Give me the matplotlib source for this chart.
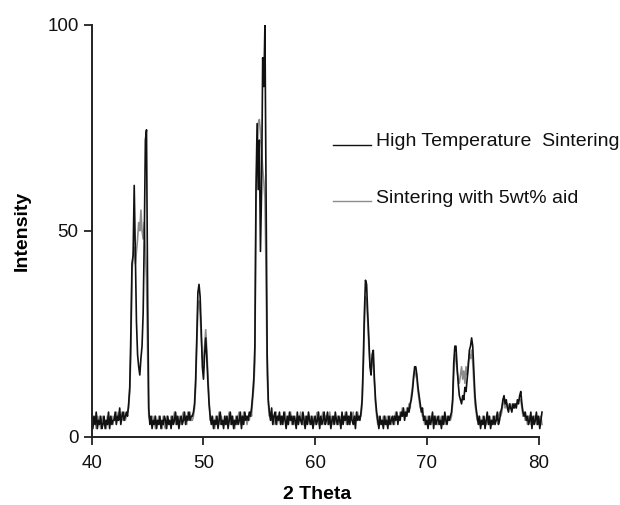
import numpy as np
import matplotlib.pyplot as plt

plt.rcParams['font.family'] = ['Liberation Sans', 'DejaVu Sans']

# 2 theta values start at 40 with a 0.1 step, one row per degree
high_temp = [
    4, 2, 5, 3, 6, 2, 4, 3, 5, 2,          # 40
    3, 5, 2, 4, 3, 6, 2, 5, 3, 4,          # 41
    4, 6, 3, 5, 4, 7, 3, 5, 6, 4,          # 42
    5, 6, 5, 8, 12, 25, 42, 44, 61, 45,    # 43
    28, 20, 17, 15, 19, 22, 30, 48, 72, 74.5,  # 44
    35, 7, 3, 5, 2, 4, 3, 5, 2, 4,         # 45
    3, 5, 2, 4, 3, 5, 4, 2, 5, 3,          # 46
    4, 2, 5, 3, 4, 6, 3, 5, 2, 4,          # 47
    5, 3, 4, 6, 3, 5, 4, 6, 4, 5,          # 48
    5, 6, 8, 14, 24, 35, 37, 34, 26, 17,   # 49
    14, 20, 24, 19, 13, 8, 5, 3, 5, 2,     # 50
    4, 3, 5, 2, 4, 6, 3, 4, 2, 5,          # 51
    3, 5, 2, 4, 6, 3, 5, 2, 4, 3,          # 52
    5, 3, 4, 6, 2, 5, 3, 6, 4, 5,          # 53
    4, 6, 5, 7, 10, 14, 22, 60, 76, 60,    # 54
    72, 45, 60, 92, 85, 100, 60, 20, 9, 6,  # 55
    4, 7, 3, 5, 6, 3, 5, 4, 6, 3,          # 56
    5, 3, 6, 4, 2, 5, 3, 6, 4, 5,          # 57
    3, 5, 4, 2, 6, 3, 5, 4, 3, 6,          # 58
    4, 2, 5, 3, 6, 4, 3, 5, 2, 4,          # 59
    5, 3, 4, 6, 2, 5, 3, 4, 6, 3,          # 60
    4, 6, 3, 5, 2, 4, 5, 3, 6, 4,          # 61
    3, 5, 4, 2, 6, 3, 5, 4, 6, 3,          # 62
    5, 3, 6, 4, 3, 5, 2, 6, 4, 5,          # 63
    4, 6, 9, 18, 30, 38, 37, 30, 24, 17,   # 64
    15, 20, 21, 14, 9, 6, 4, 2, 5, 3,      # 65
    4, 2, 5, 3, 4, 2, 5, 3, 4, 5,          # 66
    3, 5, 4, 6, 3, 5, 4, 6, 5, 7,          # 67
    4, 6, 5, 7, 6, 8, 9, 11, 14, 17,       # 68
    17, 15, 12, 10, 8, 6, 7, 4, 5, 3,      # 69
    4, 2, 5, 3, 4, 6, 2, 5, 3, 4,          # 70
    5, 3, 4, 2, 5, 3, 6, 4, 3, 5,          # 71
    4, 5, 6, 9, 18, 22, 22, 17, 13, 10,    # 72
    9, 8, 10, 9, 12, 11, 14, 17, 21, 22,   # 73
    24, 22, 16, 10, 7, 5, 3, 5, 2, 4,      # 74
    3, 5, 2, 4, 6, 3, 5, 2, 4, 3,          # 75
    5, 3, 4, 6, 3, 4, 6, 7, 9, 10,         # 76
    8, 9, 7, 6, 8, 7, 6, 8, 7, 8,          # 77
    7, 9, 8, 10, 11, 8, 6, 5, 6, 4,        # 78
    5, 3, 4, 6, 2, 5, 3, 4, 6, 3,          # 79
    5, 2, 4, 6,                            # 80
]

with_aid = [
    3, 5, 3, 4, 2, 5, 3, 5, 2, 4,          # 40
    5, 3, 4, 2, 5, 3, 4, 3, 5, 3,          # 41
    5, 4, 6, 4, 6, 5, 4, 6, 4, 6,          # 42
    4, 5, 6, 7, 11, 20, 40, 44, 46, 42,    # 43
    45, 48, 52, 50, 55, 50, 48, 52, 45, 38,  # 44
    20, 5, 4, 3, 5, 3, 5, 2, 4, 3,         # 45
    5, 3, 4, 2, 5, 3, 2, 5, 3, 4,          # 46
    3, 5, 3, 4, 6, 3, 5, 3, 4, 5,          # 47
    3, 5, 6, 4, 5, 3, 6, 4, 6, 4,          # 48
    4, 5, 7, 12, 22, 31, 33, 30, 24, 19,   # 49
    18, 22, 26, 21, 15, 9, 4, 5, 3, 4,     # 50
    2, 5, 3, 4, 6, 3, 5, 3, 4, 3,          # 51
    5, 3, 4, 6, 3, 5, 3, 4, 2, 5,          # 52
    3, 5, 6, 3, 5, 3, 6, 4, 5, 3,          # 53
    5, 4, 6, 5, 9, 12, 18, 55, 70, 76,     # 54
    77, 74, 70, 65, 62, 58, 40, 15, 8, 5,  # 55
    6, 4, 5, 3, 4, 6, 3, 5, 4, 5,          # 56
    3, 5, 4, 6, 4, 3, 5, 4, 6, 3,          # 57
    5, 3, 5, 4, 3, 5, 4, 6, 4, 3,          # 58
    3, 5, 3, 5, 4, 3, 5, 3, 4, 5,          # 59
    3, 5, 6, 3, 4, 3, 5, 6, 3, 5,          # 60
    5, 3, 4, 6, 4, 5, 3, 5, 4, 3,          # 61
    5, 3, 5, 4, 3, 5, 4, 6, 3, 5,          # 62
    3, 5, 4, 5, 6, 3, 5, 4, 6, 4,          # 63
    5, 5, 8, 16, 27, 34, 33, 28, 22, 18,   # 64
    16, 19, 18, 13, 8, 5, 3, 5, 3, 4,      # 65
    3, 5, 3, 5, 3, 5, 3, 5, 3, 4,          # 66
    5, 3, 6, 4, 5, 4, 6, 5, 7, 5,          # 67
    6, 5, 7, 6, 8, 7, 10, 12, 15, 16,      # 68
    15, 14, 11, 9, 7, 7, 5, 5, 3, 5,       # 69
    3, 5, 3, 5, 3, 4, 5, 3, 5, 3,          # 70
    3, 5, 3, 5, 3, 5, 4, 3, 5, 4,          # 71
    5, 4, 5, 8, 15, 19, 20, 16, 14, 13,    # 72
    15, 17, 14, 16, 13, 17, 15, 18, 20, 19,  # 73
    21, 18, 13, 8, 6, 4, 5, 3, 4, 3,       # 74
    5, 3, 4, 3, 4, 5, 3, 4, 3, 5,          # 75
    3, 5, 5, 4, 5, 6, 5, 6, 8, 9,          # 76
    7, 8, 8, 7, 7, 8, 7, 7, 8, 7,          # 77
    8, 8, 9, 9, 9, 7, 5, 6, 4, 5,          # 78
    3, 5, 5, 3, 4, 3, 5, 5, 3, 5,          # 79
    3, 4, 5, 3,                            # 80
]

two_theta = 40 + 0.1 * np.arange(len(high_temp))

x_ticks = [40, 50, 60, 70, 80]
y_ticks = [0, 50, 100]
labels = ['High Temperature  Sintering', 'Sintering with 5wt% aid']

fig = plt.figure(figsize=(6.2, 5.05), dpi=100)
ax = fig.add_axes([0.148, 0.135, 0.728, 0.816])

ax.plot(two_theta, with_aid, color='#8c8c8c', lw=1.2)
ax.plot(two_theta, high_temp, color='#111111', lw=1.2)

ax.set_xlim(40, 80.4)
ax.set_ylim(0, 100)
ax.set_xticks(x_ticks)
ax.set_yticks(y_ticks)
ax.spines['top'].set_visible(False)
ax.spines['right'].set_visible(False)
ax.spines['bottom'].set_bounds(40, 80)
for s in ['left', 'bottom']:
    ax.spines[s].set_linewidth(1.4)
    ax.spines[s].set_color('#222222')
ax.tick_params(direction='out', length=6, width=1.2, labelsize=13.5, colors='#111111')
ax.tick_params(axis='x', pad=7)

ax.set_xlabel('2 Theta', fontsize=14, fontweight='bold', labelpad=10)
ax.set_ylabel('Intensity', fontsize=14, fontweight='bold', labelpad=12)

# hand-made legend: short line at the text baseline, then the text
for i, (lab, col) in enumerate(zip(labels, ['#111111', '#8c8c8c'])):
    y = 0.705 - i * 0.137
    ax.plot([0.534, 0.618], [y + 0.004, y + 0.004], transform=ax.transAxes,
            color=col, lw=1.0, clip_on=False)
    ax.text(0.629, y, lab, transform=ax.transAxes, fontsize=14, va='baseline',
            color='#111111')

fig.savefig('out.png', dpi=100)
